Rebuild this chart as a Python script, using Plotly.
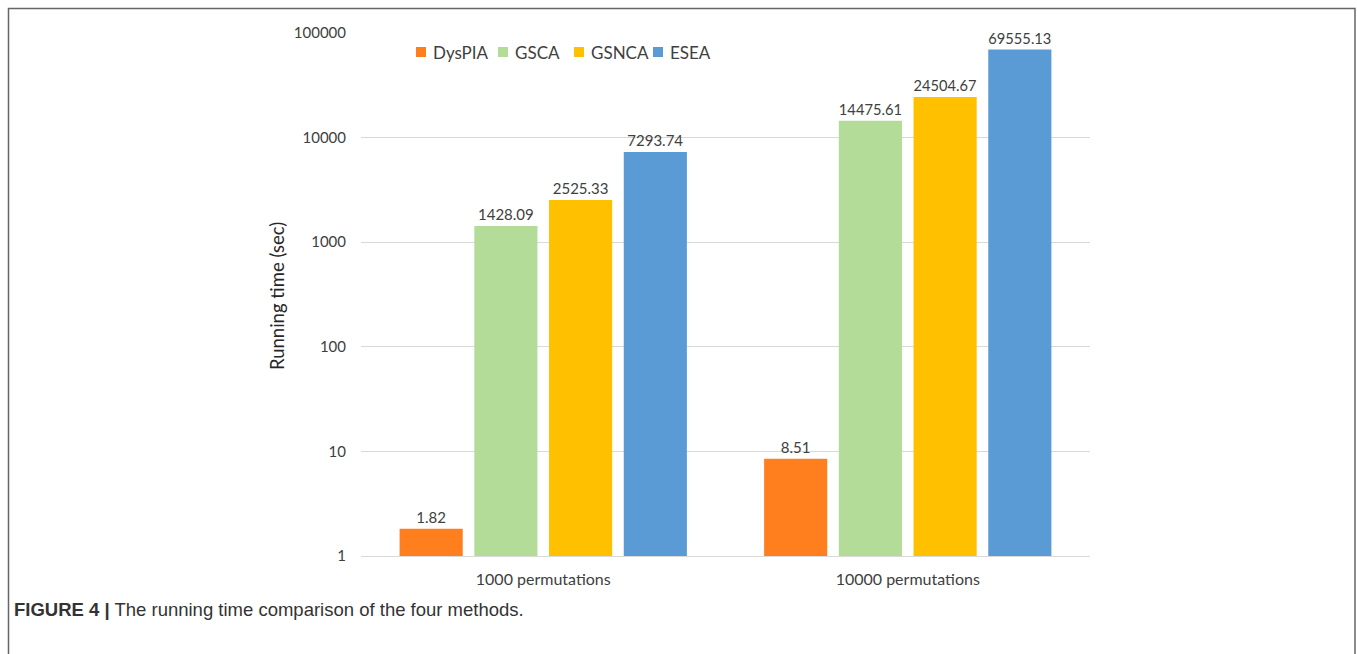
import plotly.graph_objects as go

# Running time (seconds) of each method for two permutation counts
categories = ["1000 permutations", "10000 permutations"]
methods = ["DysPIA", "GSCA", "GSNCA", "ESEA"]
dyspia = [1.82, 8.51]
gsca = [1428.09, 14475.61]
gsnca = [2525.33, 24504.67]
esea = [7293.74, 69555.13]
tick_vals = [1, 10, 100, 1000, 10000, 100000]
tick_text = ["1", "10", "100", "1000", "10000", "100000"]

series = [dyspia, gsca, gsnca, esea]
colors = ["#FF7F1F", "#B2DC98", "#FFC000", "#5B9BD5"]

W, H = 1357, 654
L, R, T, B = 361, 1090, 33, 556  # plot area in pixels


def px_x(p):
    return (p - L) / (R - L)


def px_y(p):
    return (B - p) / (B - T)


font_family = "Lato, 'Open Sans', sans-serif"
text_color = "#404040"

fig = go.Figure()
for name, vals, col in zip(methods, series, colors):
    fig.add_trace(go.Bar(
        name=name,
        x=categories,
        y=vals,
        marker=dict(color=col, line=dict(width=0)),
        text=[f"{v:.2f}" for v in vals],
        textposition="outside",
        textfont=dict(size=15, color=text_color, family=font_family),
        cliponaxis=False,
        showlegend=False,
    ))

fig.update_layout(
    width=W,
    height=H,
    margin=dict(l=L, r=W - R, t=T, b=H - B, pad=0),
    paper_bgcolor="white",
    plot_bgcolor="white",
    barmode="group",
    bargap=0.18,
    bargroupgap=0.155,
    font=dict(family=font_family, size=15, color=text_color),
)

fig.update_xaxes(
    showgrid=False,
    showline=True,
    linecolor="#D9D9D9",
    linewidth=1,
    ticks="",
    ticklabelstandoff=9,
    tickfont=dict(size=16, color=text_color),
)
fig.update_yaxes(
    type="log",
    range=[0, 5],
    tickvals=tick_vals,
    ticktext=tick_text,
    showgrid=True,
    gridcolor="#D9D9D9",
    gridwidth=1,
    zeroline=False,
    showline=False,
    ticks="",
    ticklabelstandoff=14,
    tickfont=dict(size=15, color=text_color),
)

# compact horizontal legend: colour square followed by the method name
legend_starts = [416, 498, 574, 653]
legend_y = 52
for name, col, x0 in zip(methods, colors, legend_starts):
    fig.add_shape(
        type="rect",
        xref="paper", yref="paper",
        x0=px_x(x0), x1=px_x(x0 + 10),
        y0=px_y(legend_y + 5), y1=px_y(legend_y - 5),
        fillcolor=col, line=dict(width=0),
        layer="above",
    )
    fig.add_annotation(
        text=name,
        xref="paper", yref="paper",
        x=px_x(x0 + 15), y=px_y(legend_y),
        xanchor="left", yanchor="middle",
        showarrow=False,
        font=dict(size=17, color=text_color, family=font_family),
    )

# y-axis title
fig.add_annotation(
    text="Running time (sec)",
    xref="paper", yref="paper",
    x=px_x(277), y=px_y(296),
    xanchor="center", yanchor="middle",
    textangle=-90,
    showarrow=False,
    font=dict(size=18.5, color="#262626", family=font_family),
)

# figure caption
fig.add_annotation(
    text="<b>FIGURE 4 |</b> The running time comparison of the four methods.",
    xref="paper", yref="paper",
    x=px_x(12), y=px_y(609),
    xanchor="left", yanchor="middle",
    showarrow=False,
    font=dict(size=18.5, color="#333333",
              family="'Liberation Sans Narrow', 'Liberation Sans', Arial, sans-serif"),
)

# outer frame
fig.add_shape(
    type="rect",
    xref="paper", yref="paper",
    x0=px_x(8.5), x1=px_x(1355),
    y0=px_y(680), y1=px_y(8.5),
    line=dict(color="#666666", width=1.5),
    fillcolor="rgba(0,0,0,0)",
    layer="above",
)

fig.write_html("out.html")
